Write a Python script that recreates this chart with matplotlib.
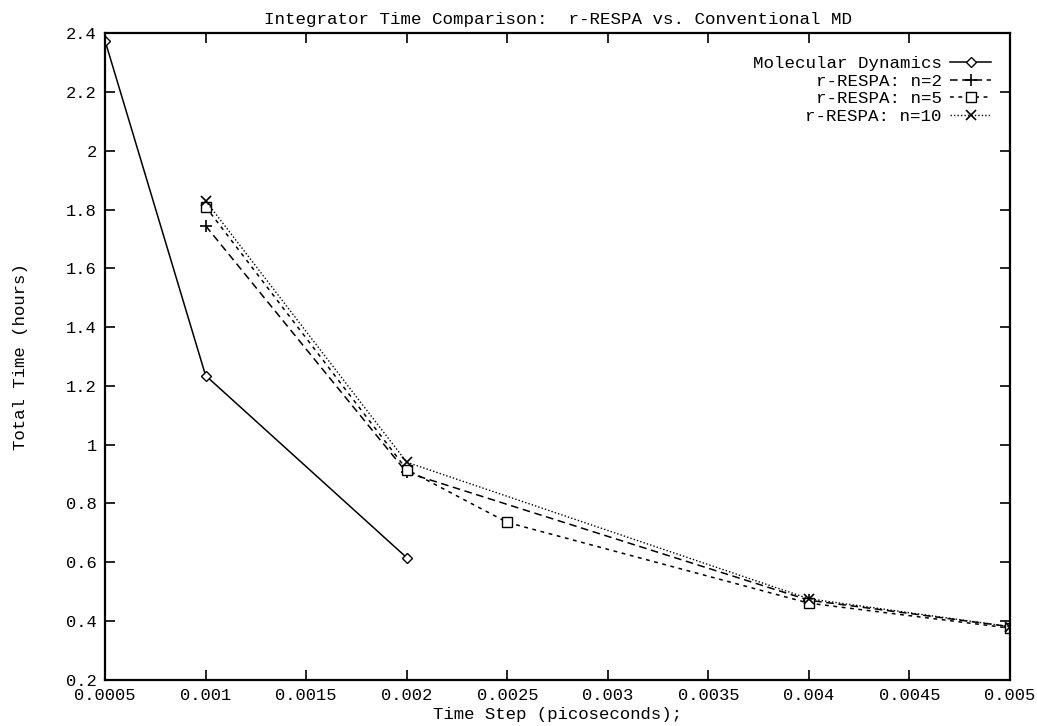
import matplotlib.pyplot as plt
import numpy as np

plt.rcParams['font.family'] = ['Liberation Mono', 'DejaVu Sans Mono']

md_x = [0.0005, 0.001, 0.002]
md_y = [2.375, 1.235, 0.615]

n2_x = [0.001, 0.002, 0.004, 0.005]
n2_y = [1.745, 0.905, 0.47, 0.38]

n5_x = [0.001, 0.002, 0.0025, 0.004, 0.005]
n5_y = [1.81, 0.915, 0.735, 0.46, 0.375]

n10_x = [0.001, 0.002, 0.004, 0.005]
n10_y = [1.83, 0.94, 0.475, 0.38]

xticks = [0.0005, 0.001, 0.0015, 0.002, 0.0025, 0.003, 0.0035, 0.004, 0.0045, 0.005]
xtick_labels = ['0.0005', '0.001', '0.0015', '0.002', '0.0025', '0.003',
                '0.0035', '0.004', '0.0045', '0.005']
yticks = [0.2, 0.4, 0.6, 0.8, 1.0, 1.2, 1.4, 1.6, 1.8, 2.0, 2.2, 2.4]
ytick_labels = ['0.2', '0.4', '0.6', '0.8', '1', '1.2', '1.4', '1.6', '1.8', '2', '2.2', '2.4']

fig = plt.figure(figsize=(10.37, 7.26), dpi=100)
ax = fig.add_axes([0.1013, 0.064, 0.8727, 0.89])

ax.plot(md_x, md_y, color='black', lw=1.1, ls='-', marker='D', ms=5,
        mfc='white', mec='black', mew=1.0, label='Molecular Dynamics')
ax.plot(n2_x, n2_y, color='black', lw=1.1, ls=(0, (5, 3)), marker='+', ms=8,
        mew=1.2, label='r-RESPA: n=2')
ax.plot(n5_x, n5_y, color='black', lw=1.1, ls=(0, (2.5, 3)), marker='s', ms=7,
        mfc='white', mec='black', mew=1.0, label='r-RESPA: n=5')
ax.plot(n10_x, n10_y, color='black', lw=1.0, ls=(0, (1, 1.5)), marker='x', ms=7,
        mew=1.2, label='r-RESPA: n=10')

ax.set_xlim(0.0005, 0.005)
ax.set_ylim(0.2, 2.4)
ax.set_xticks(xticks)
ax.set_xticklabels(xtick_labels)
ax.set_yticks(yticks)
ax.set_yticklabels(ytick_labels)
ax.tick_params(direction='in', length=7.5, width=1.2, top=True, right=True,
               labelsize=12.3, pad=6)
for s in ax.spines.values():
    s.set_linewidth(1.6)

ax.set_title('Integrator Time Comparison:  r-RESPA vs. Conventional MD',
             fontsize=12.6, pad=7)
ax.set_xlabel('Time Step (picoseconds);', fontsize=12.5, labelpad=3)
ax.set_ylabel('Total Time (hours)', fontsize=12.5, labelpad=27)

ax.legend(loc='upper right', bbox_to_anchor=(0.998, 0.992),
          markerfirst=False, frameon=False, fontsize=12.6,
          handlelength=2.3, labelspacing=0.13, handletextpad=0.5,
          borderaxespad=0.6)

fig.savefig('out.png', dpi=100)
